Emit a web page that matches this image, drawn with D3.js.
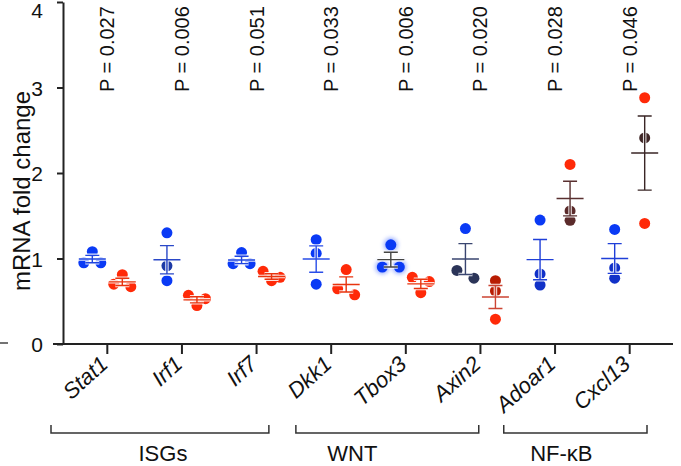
<!DOCTYPE html>
<html>
<head>
<meta charset="UTF-8">
<title>mRNA fold change</title>
<script src="https://cdn.jsdelivr.net/npm/d3@7"></script>
<style>
body { margin: 0; background: #fff; }
text { font-family: "Liberation Sans", Arial, sans-serif; fill: #111; }
</style>
</head>
<body>
<svg id="chart" width="681" height="466"></svg>
<script>
// data
var genes = ["Stat1", "Irf1", "Irf7", "Dkk1", "Tbox3", "Axin2", "Adoar1", "Cxcl13"];
var pValues = ["0.027", "0.006", "0.051", "0.033", "0.006", "0.020", "0.028", "0.046"];
var ctrlValues = [
  [1.08, 0.95, 0.95],
  [1.30, 0.915, 0.74],
  [1.07, 0.94, 0.94],
  [1.22, 1.06, 0.70],
  [1.16, 0.90, 0.90],
  [1.35, 0.86, 0.77],
  [1.45, 0.82, 0.69],
  [1.34, 0.89, 0.77]
];
var treatValues = [
  [0.81, 0.70, 0.67],
  [0.57, 0.53, 0.45],
  [0.85, 0.78, 0.74],
  [0.87, 0.645, 0.575],
  [0.78, 0.73, 0.60],
  [0.74, 0.62, 0.29],
  [2.10, 1.556, 1.447],
  [2.88, 2.41, 1.41]
];
var groupNames = ["ISGs", "WNT", "NF-κB"];
var groupSpan = [["Stat1", "Irf7"], ["Dkk1", "Axin2"], ["Adoar1", "Cxcl13"]];
var yTicks = [0, 1, 2, 3, 4];

// styles
var B = "#0a3af5", R = "#ff2a08";
var ctrlDot = [
  [B, B, B], [B, "#1d3aa6", B], [B, B, B], [B, B, B],
  [B, B, B], [B, "#2b3458", "#2b3458"], [B, "#1131c8", "#1131c8"], [B, "#1131c8", "#1131c8"]
];
var treatDot = [
  [R, R, R], [R, R, R], [R, R, R], [R, R, R],
  [R, R, R], ["#b81c02", "#b81c02", R], [R, "#5b2b2b", "#5b2b2b"], [R, "#3f2626", R]
];
var ctrlBar = ["#1f45e0", "#2a48c8", "#1f45e0", "#2a4ee8", "#444444", "#3a4670", "#1f3fd8", "#1f3fd8"];
var treatBar = ["#e8340f", "#e8340f", "#e8340f", "#e8340f", "#e8340f", "#cc4433", "#5a3030", "#3a2626"];
var bracketPad = [[-19, -25], [2, -39], [-14, -20]];
var labelShift = [3, -35, -14];

var svg = d3.select("#chart");
var x = d3.scaleBand().domain(genes).range([70, 667]).padding(0);
var y = d3.scaleLinear().domain([0, 4]).range([344, 2]);
var off = 15, r = 5.5, dodgeStep = 17, rowTol = 8;

function mean(a) { return d3.mean(a); }
function sem(a) { return d3.deviation(a) / Math.sqrt(a.length); }

// simple row dodge: points with nearly the same height are spread side by side
function layout(vals, cx) {
  var idx = d3.range(vals.length).sort(function(a, b) { return vals[b] - vals[a]; });
  var rows = [];
  idx.forEach(function(i) {
    var py = y(vals[i]);
    var row = rows.length ? rows[rows.length - 1] : null;
    if (row && Math.abs(py - row.y0) < rowTol) row.items.push(i);
    else rows.push({ y0: py, items: [i] });
  });
  var pts = [];
  rows.forEach(function(row) {
    var n = row.items.length;
    row.items.forEach(function(i, k) {
      pts.push({ i: i, cx: cx + (k - (n - 1) / 2) * dodgeStep, cy: y(vals[i]) });
    });
  });
  return pts;
}

var defs = svg.append("defs");
defs.append("filter").attr("id", "glow").attr("x", "-50%").attr("y", "-50%").attr("width", "200%").attr("height", "200%")
  .append("feGaussianBlur").attr("stdDeviation", 2);

function drawGroup(vals, cx, dotColors, barColor, glow) {
  var g = svg.append("g");
  var pts = layout(vals, cx);
  if (glow) {
    g.selectAll(".halo").data(pts).enter().append("circle")
      .attr("cx", function(d) { return d.cx; }).attr("cy", function(d) { return d.cy; })
      .attr("r", r + 1.5).attr("fill", "#6f8cff").attr("opacity", 0.7).attr("filter", "url(#glow)");
  }
  g.selectAll(".dot").data(pts).enter().append("circle")
    .attr("cx", function(d) { return d.cx; }).attr("cy", function(d) { return d.cy; })
    .attr("r", r).attr("fill", function(d) { return dotColors[d.i]; });
  var m = mean(vals), s = sem(vals);
  var path = "M" + (cx - 13.5) + "," + y(m) + "H" + (cx + 13.5) +
    "M" + cx + "," + y(m + s) + "V" + y(m - s) +
    "M" + (cx - 7) + "," + y(m + s) + "H" + (cx + 7) +
    "M" + (cx - 7) + "," + y(m - s) + "H" + (cx + 7);
  g.append("path").attr("d", path).attr("fill", "none").attr("stroke", "#fff").attr("stroke-width", 3.5).attr("opacity", 0.85);
  g.append("path").attr("d", path).attr("fill", "none").attr("stroke", barColor).attr("stroke-width", 1.4);
}

genes.forEach(function(gname, j) {
  var cx = x(gname) + x.bandwidth() / 2;
  drawGroup(ctrlValues[j], cx - off, ctrlDot[j], ctrlBar[j], gname === "Tbox3");
  drawGroup(treatValues[j], cx + off, treatDot[j], treatBar[j], false);
});

// y axis
var yAxis = svg.append("g").attr("transform", "translate(63,0)")
  .call(d3.axisLeft(y).tickValues(yTicks).tickFormat(d3.format("d")).tickSize(6).tickSizeOuter(0).tickPadding(14));
yAxis.select(".domain").attr("stroke", "#222").attr("stroke-width", 2);
yAxis.selectAll(".tick line").attr("stroke", "#222").attr("stroke-width", 2);
yAxis.selectAll(".tick text").attr("font-size", 21).attr("font-family", "Liberation Sans, Arial, sans-serif").attr("fill", "#111")
  .attr("dy", "0.36em")
  .attr("y", function(d) { return d === 4 ? 8 : 0; }); // keep the top label inside the frame

// x axis
svg.append("line").attr("x1", 53).attr("x2", 673).attr("y1", 344).attr("y2", 344).attr("stroke", "#222").attr("stroke-width", 2);
var xAxis = svg.append("g").attr("transform", "translate(0,344)")
  .call(d3.axisBottom(x).tickSize(10).tickSizeOuter(0).tickFormat(""));
xAxis.select(".domain").remove();
xAxis.selectAll(".tick line").attr("stroke", "#222").attr("stroke-width", 2);

svg.append("line").attr("x1", 0).attr("x2", 8).attr("y1", 343).attr("y2", 343).attr("stroke", "#444").attr("stroke-width", 1.5);

// gene labels
svg.selectAll(".gene").data(genes).enter().append("text")
  .attr("transform", function(d) { return "translate(" + (x(d) + x.bandwidth() / 2 + 2) + ",366) rotate(-42)"; })
  .attr("text-anchor", "end").attr("font-size", 22).attr("font-style", "italic")
  .text(function(d) { return d; });

// p values
svg.selectAll(".pval").data(genes).enter().append("text")
  .attr("transform", function(d) { return "translate(" + (x(d) + x.bandwidth() / 2 + 7) + ",92) rotate(-90)"; })
  .attr("font-size", 20)
  .text(function(d, i) { return "P = " + pValues[i]; });

// y title
svg.append("text").attr("transform", "translate(30,191) rotate(-90)")
  .attr("text-anchor", "middle").attr("font-size", 24).text("mRNA fold change");

// brackets
groupNames.forEach(function(name, k) {
  var x0 = x(groupSpan[k][0]) + bracketPad[k][0];
  var x1 = x(groupSpan[k][1]) + x.bandwidth() + bracketPad[k][1];
  svg.append("path").attr("d", "M" + x0 + ",425V433H" + x1 + "V425")
    .attr("fill", "none").attr("stroke", "#333").attr("stroke-width", 1.5);
  svg.append("text").attr("x", (x0 + x1) / 2 + labelShift[k]).attr("y", 461)
    .attr("text-anchor", "middle").attr("font-size", 22).text(name);
});
</script>
</body>
</html>
